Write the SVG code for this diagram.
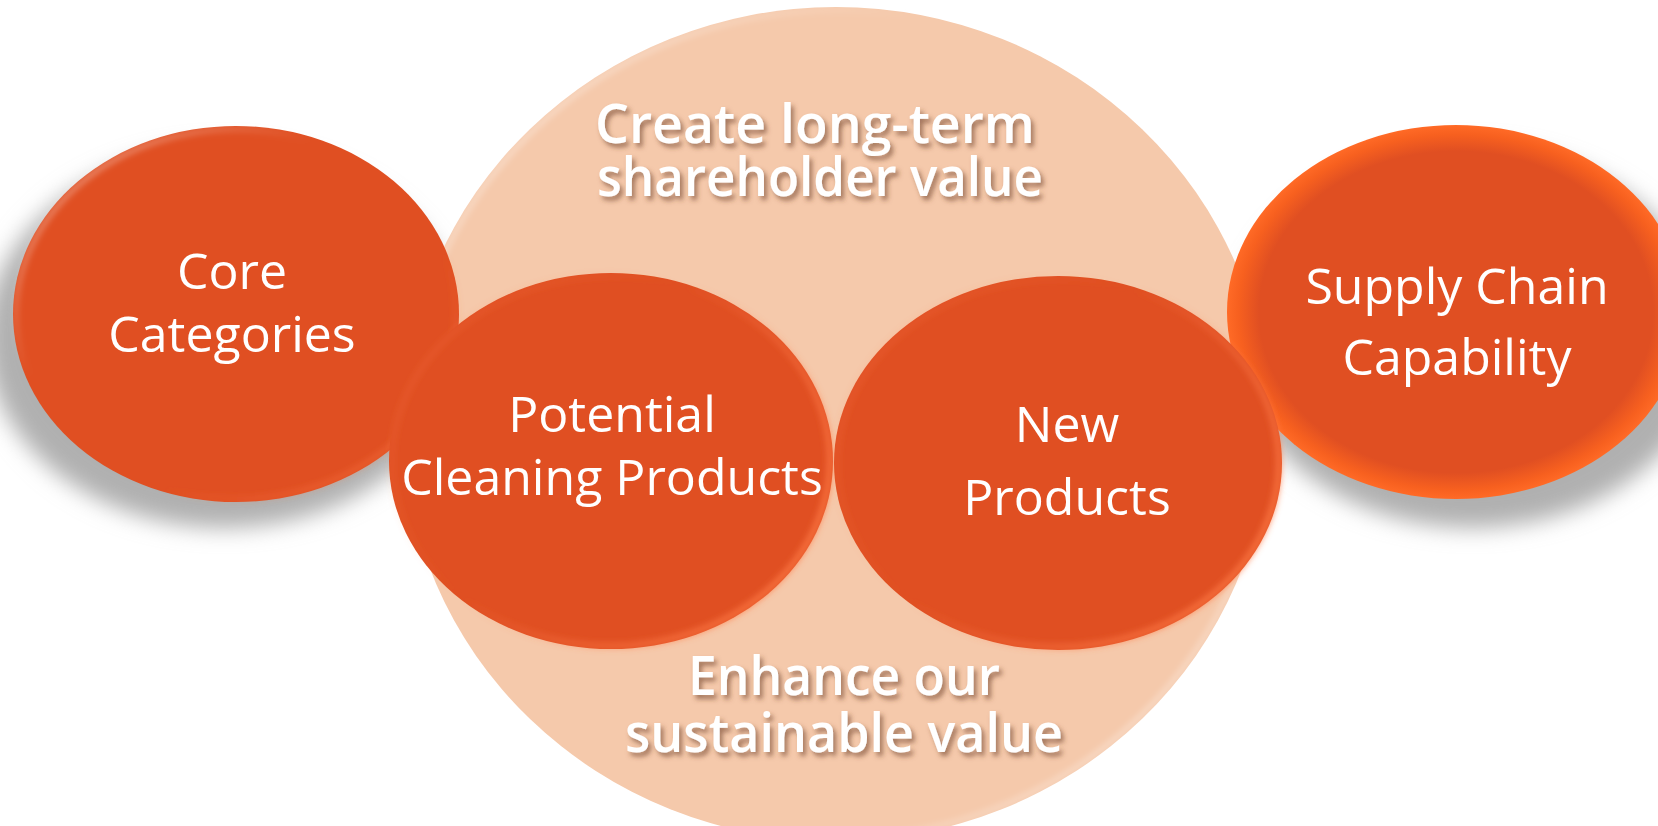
<svg xmlns="http://www.w3.org/2000/svg" width="1658" height="826" viewBox="0 0 1658 826">
  <defs>
    <style>
      .node-label { font-family: "Open Sans", "Liberation Sans", sans-serif; font-size: 50px; fill: #ffffff; text-anchor: middle; }
      .big-label { font-family: "Open Sans", "Liberation Sans", sans-serif; font-size: 54px; font-weight: 600; fill: #ffffff; text-anchor: middle; filter: url(#textShadow); }
      .orange { fill: #E04F22; }
    </style>
    <filter id="blur" x="-20%" y="-20%" width="140%" height="140%">
      <feGaussianBlur stdDeviation="11"/>
    </filter>
    <filter id="softEdge" x="-10%" y="-10%" width="120%" height="120%">
      <feGaussianBlur stdDeviation="3"/>
    </filter>
    <filter id="textShadow" x="-10%" y="-30%" width="120%" height="160%">
      <feDropShadow dx="3" dy="4" stdDeviation="2.5" flood-color="#6b3a26" flood-opacity="0.6"/>
    </filter>
    <radialGradient id="supplyGrad" cx="50%" cy="50%" r="50%">
      <stop offset="0.86" stop-color="#E04F22"/>
      <stop offset="0.95" stop-color="#F7601F"/>
      <stop offset="1" stop-color="#FF6A26"/>
    </radialGradient>
    <linearGradient id="rimLight" x1="0" y1="0" x2="1" y2="1">
      <stop offset="0" stop-color="#ffffff" stop-opacity="0.7"/>
      <stop offset="0.35" stop-color="#ffffff" stop-opacity="0"/>
      <stop offset="0.65" stop-color="#FF7A45" stop-opacity="0"/>
      <stop offset="1" stop-color="#FF7A45" stop-opacity="0.8"/>
    </linearGradient>
    <linearGradient id="rimOrange" x1="0" y1="0" x2="1" y2="0.6">
      <stop offset="0" stop-color="#FF8050" stop-opacity="0.3"/>
      <stop offset="0.5" stop-color="#FF8050" stop-opacity="0"/>
      <stop offset="1" stop-color="#FF7A45" stop-opacity="0.9"/>
    </linearGradient>
    <linearGradient id="peachRim" x1="0" y1="0" x2="1" y2="1">
      <stop offset="0" stop-color="#ffffff" stop-opacity="0.8"/>
      <stop offset="0.3" stop-color="#ffffff" stop-opacity="0"/>
      <stop offset="0.7" stop-color="#ffffff" stop-opacity="0"/>
      <stop offset="1" stop-color="#ffffff" stop-opacity="0.8"/>
    </linearGradient>
  </defs>

  <rect width="1658" height="826" fill="#ffffff"/>

  <g id="shadows">
    <ellipse cx="224" cy="338" rx="238" ry="190" fill="#b0b0b0" filter="url(#blur)"/>
    <ellipse cx="1472" cy="338" rx="238" ry="190" fill="#b0b0b0" filter="url(#blur)"/>
  </g>

  <g id="value-circle">
    <ellipse cx="836" cy="424" rx="433" ry="417" fill="#F5C9AB"/>
    <ellipse cx="836" cy="424" rx="430" ry="414" fill="none" stroke="url(#peachRim)" stroke-width="4" filter="url(#softEdge)"/>
    <text class="big-label" x="815" y="143" textLength="440" lengthAdjust="spacingAndGlyphs">Create long-term</text>
    <text class="big-label" x="820" y="196" textLength="446" lengthAdjust="spacingAndGlyphs">shareholder value</text>
    <text class="big-label" x="844" y="695" textLength="312" lengthAdjust="spacingAndGlyphs">Enhance our</text>
    <text class="big-label" x="844" y="752" textLength="438" lengthAdjust="spacingAndGlyphs">sustainable value</text>
  </g>

  <g id="core-categories">
    <ellipse class="orange" cx="236" cy="314" rx="223" ry="188"/>
    <ellipse cx="236" cy="314" rx="220" ry="185" fill="none" stroke="url(#rimLight)" stroke-width="4" filter="url(#softEdge)"/>
    <text class="node-label" x="232" y="289">Core</text>
    <text class="node-label" x="232" y="352">Categories</text>
  </g>

  <g id="supply-chain">
    <ellipse cx="1456" cy="312" rx="229" ry="187" fill="url(#supplyGrad)"/>
    <text class="node-label" x="1457" y="304">Supply Chain</text>
    <text class="node-label" x="1457" y="375">Capability</text>
  </g>

  <g id="potential-cleaning">
    <ellipse class="orange" cx="611" cy="461" rx="222" ry="188"/>
    <ellipse cx="611" cy="461" rx="219" ry="185" fill="none" stroke="url(#rimOrange)" stroke-width="5" filter="url(#softEdge)"/>
    <text class="node-label" x="612" y="432">Potential</text>
    <text class="node-label" x="612" y="495">Cleaning Products</text>
  </g>

  <g id="new-products">
    <ellipse class="orange" cx="1058" cy="463" rx="224" ry="187"/>
    <ellipse cx="1058" cy="463" rx="221" ry="184" fill="none" stroke="url(#rimOrange)" stroke-width="5" filter="url(#softEdge)"/>
    <text class="node-label" x="1067" y="442">New</text>
    <text class="node-label" x="1067" y="515">Products</text>
  </g>

  <g id="connectors"></g>
</svg>
